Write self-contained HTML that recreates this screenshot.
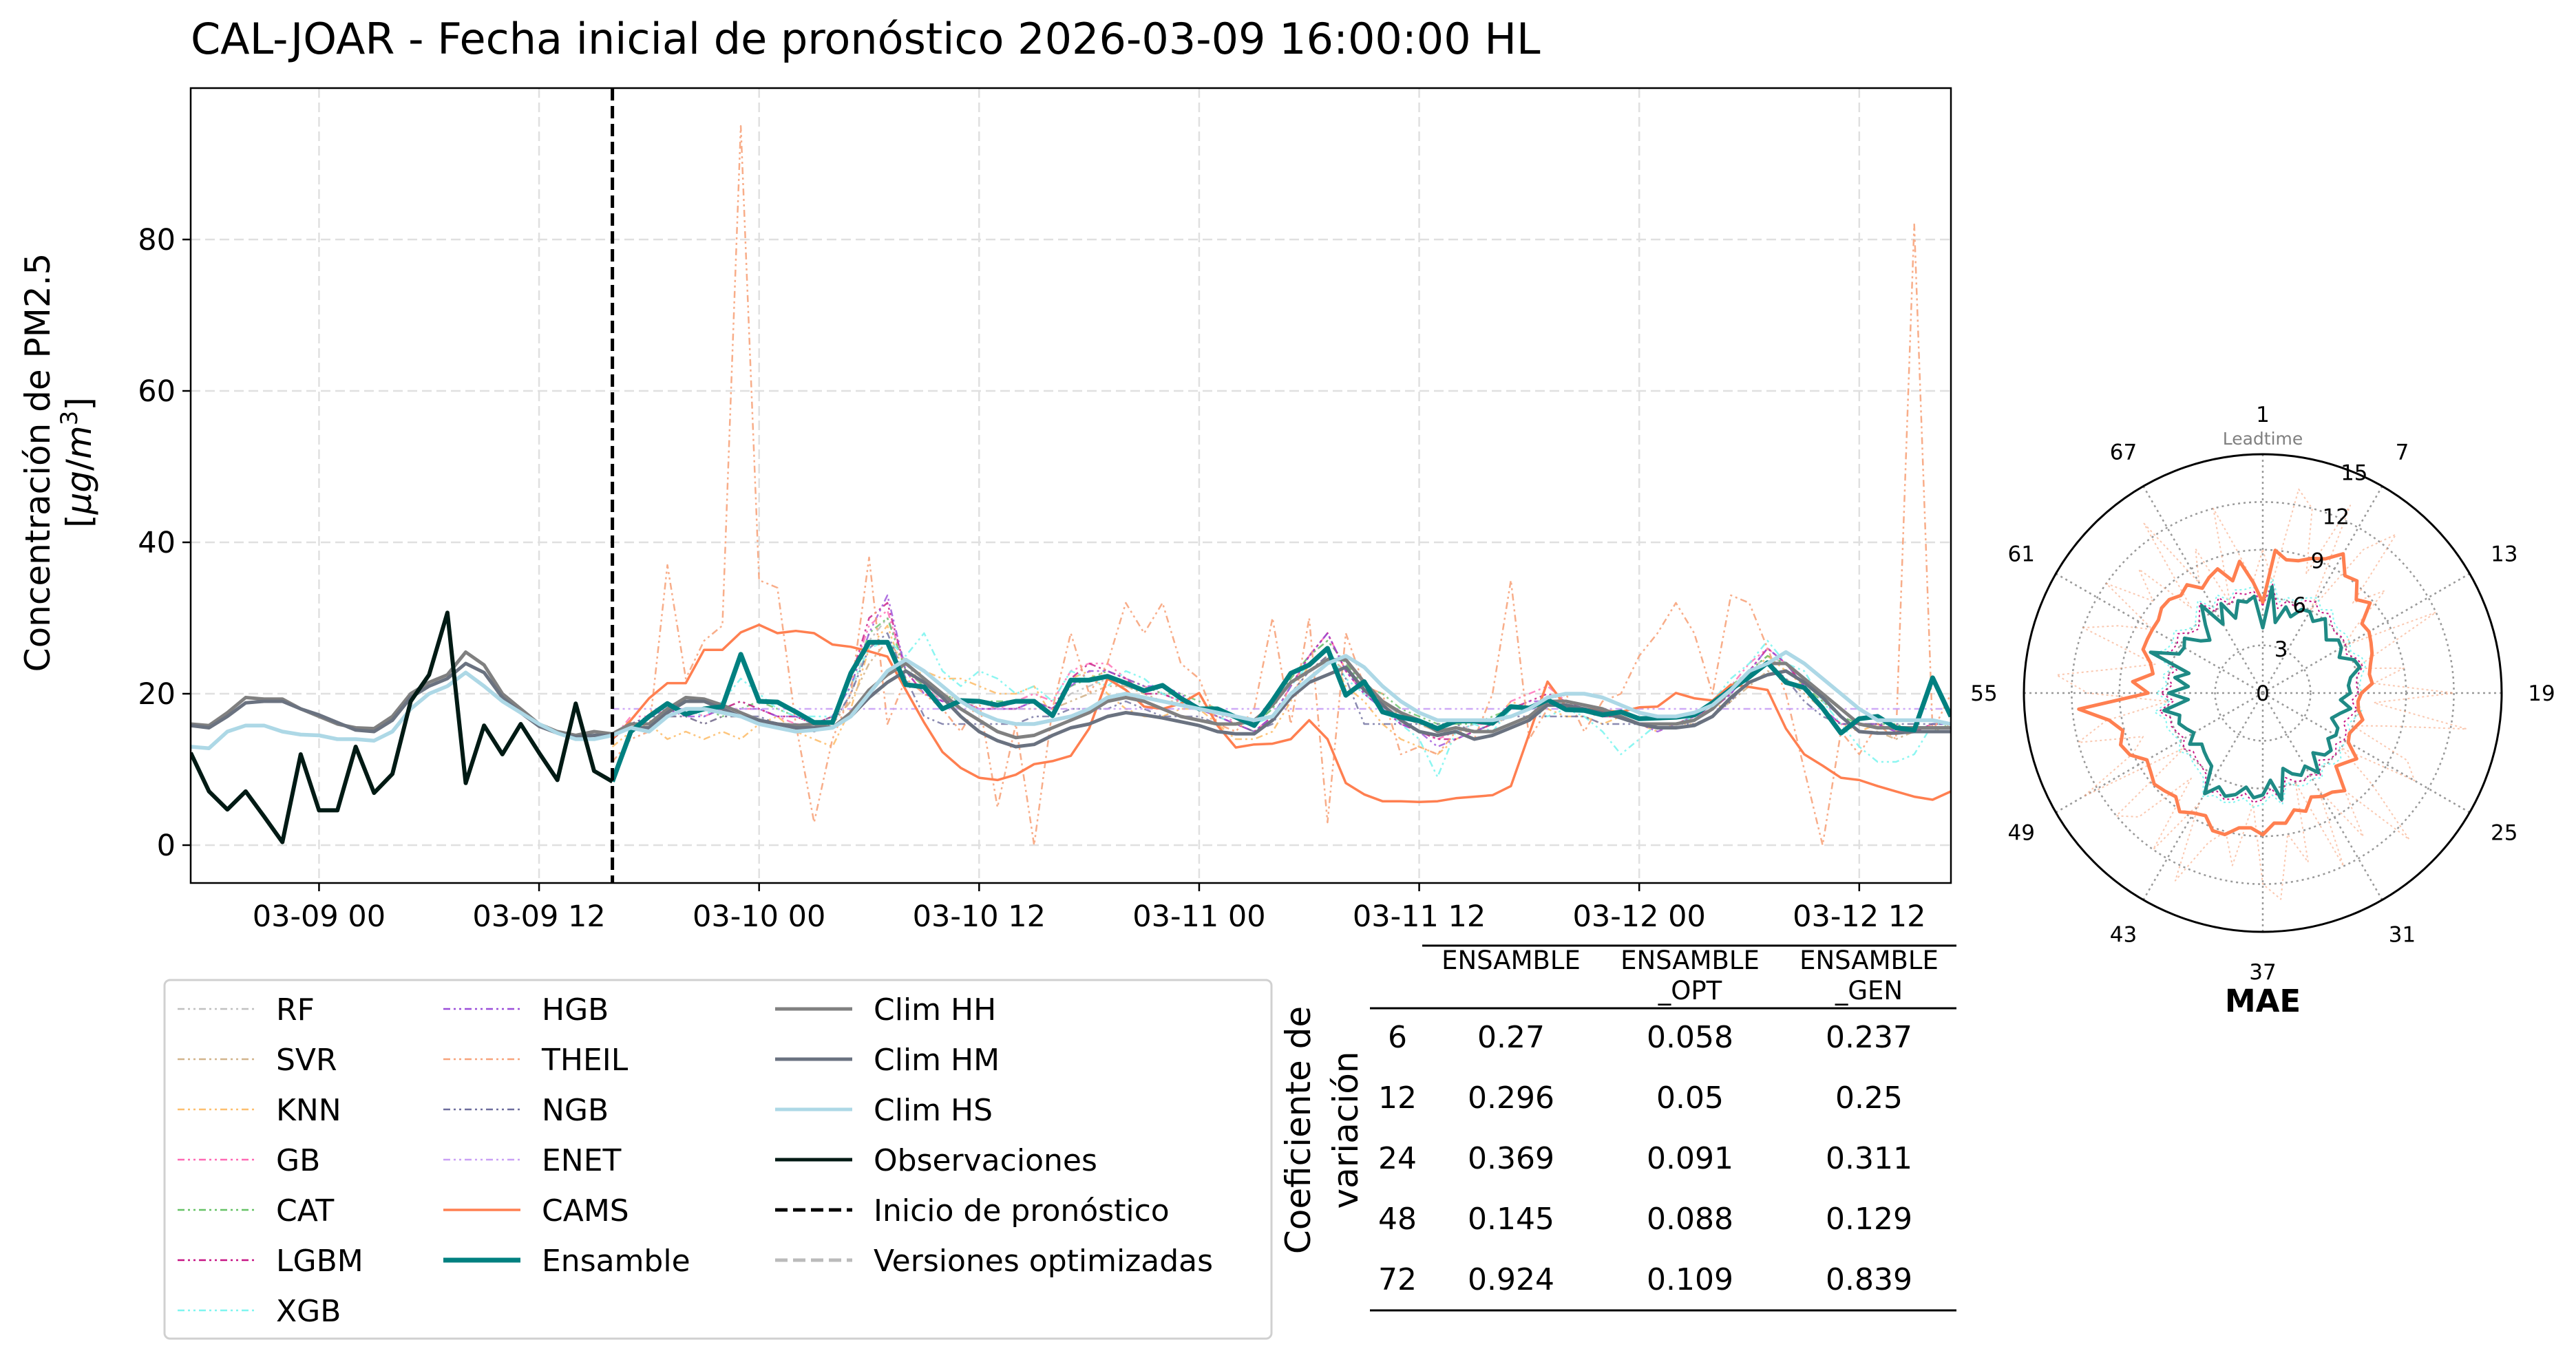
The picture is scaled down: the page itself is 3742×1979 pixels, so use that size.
<!DOCTYPE html>
<html><head><meta charset="utf-8"><style>
html,body{margin:0;padding:0;background:#fff;}
svg{display:block;font-family:"DejaVu Sans","Liberation Sans",sans-serif;}
</style></head><body>
<svg id="fig" xmlns="http://www.w3.org/2000/svg" width="3742" height="1979" viewBox="0 0 3742 1979">
<rect width="3742" height="1979" fill="#fff"/>
<text x="277" y="78" font-size="62">CAL-JOAR - Fecha inicial de pronóstico 2026-03-09 16:00:00 HL</text>
<g id="main"></g>
<g id="legend"></g>
<g id="table"></g>
<g id="polar"></g>
</svg>
<script>
// ---------- time series data (hours relative to 03-09 00) ----------
const xTickHours = [0,12,24,36,48,60,72,84];
const xTickLabels = ["03-09 00","03-09 12","03-10 00","03-10 12","03-11 00","03-11 12","03-12 00","03-12 12"];
const yTicks = [0,20,40,60,80];
const obsStart = -7;
const observations = [12.2,7.1,4.7,7.1,3.8,0.4,12,4.6,4.6,13,6.9,9.4,19,22.5,30.7,8.2,15.8,12,16,12.2,8.6,18.7,9.8,8.4];
const climStart = -7;
const climHH = [16,15.8,17.5,19.5,19.3,19.3,18,17,16,15.5,15.4,17,20,21.5,22.5,25.5,23.8,20,18,16,15,14.5,15,14.7,16,16,18,19.5,19.3,18.5,17.5,16.5,16,15.8,16,15.5,17.5,20.5,22.5,24,22,20,18,16.5,15,14.2,14.5,15.5,16.5,17.5,19,19.5,19,18,17,16.5,16,16,16.5,18.5,21.5,23,24.5,24.5,21.5,19,17.5,16.5,15,15.5,15,15,16,17,19,19,18.5,18,17,16,16,16,16.5,18,20.5,22.5,24,24,22,20,18,16,15.5,15.5,15.5,15.5,15.5];
const climHM = [15.8,15.5,17,18.8,19,19,18,17.2,16.2,15.2,15,16.5,19.5,21,22,24,22.8,19.5,17.5,15.7,14.8,14.3,14.5,14.5,15.5,15.5,17.5,19,19,18,17,16.5,16,15.5,15.5,15.5,17,19.5,21.5,23,21.5,19.5,17,15,13.8,13,13.3,14.5,15.5,16,17,17.5,17.2,16.8,16.3,15.8,15,14.7,14.7,16.5,19.5,21.5,22.5,23.5,20.5,18.5,16.5,15,14.5,15,14,14.5,15.5,16.5,18.5,18.5,18,17.5,16.8,16,15.5,15.5,15.8,17,19.5,21.5,22.5,23,21.5,19.5,17,15,14.8,14.8,15,15,15];
const climHS = [13,12.8,15,15.8,15.8,15,14.6,14.5,14,14,13.8,15,18,20,21,22.8,21,19,17.5,16,14.8,14,14,14.5,15.5,15,17,18,18,17.5,17,16,15.5,15,15.2,15.5,17,20,23,24.5,23,21,19,17.5,16.5,16,16,16.5,17,18,19.5,20,19.5,19,18.5,18,17.5,17,16.5,17,20,22,24,25,23.5,21,19,17.5,16.5,16.5,16.5,16.5,17,18,19.5,20,20,19.5,18.5,17.5,17,17,17.5,18.5,20.5,23,24,25.5,24,22,20,18,16.5,16.5,16.5,16.5,16];
const fcStart = 16;
const ensamble = [8.4,15,17,18.7,17.3,18,18.3,25.2,19,18.9,17.6,16.2,16.2,22.7,26.8,26.8,21.2,20.9,18,19.1,19,18.5,19,19,17.1,21.8,21.8,22.3,21.4,20.4,21.1,19.4,18,18,16.9,15.8,19.1,22.7,23.8,26,19.8,21.6,17.6,16.9,16.4,15.4,16.4,16.4,16.1,18.3,18.1,19.2,17.9,17.8,17.2,17.6,16.7,16.8,16.9,17.2,18.8,20.6,22.2,24.1,21.5,20.8,18.1,14.8,16.7,17,15.5,15.2,22.1,17];
const cams = [14,16.5,19.4,21.4,21.4,25.8,25.8,28.1,29.1,28,28.3,28,26.5,26.2,25.6,24.9,20.5,16.2,12.3,10.2,8.9,8.6,9.3,10.7,11.1,11.8,15.4,22,20.5,18.3,18,18.7,20.1,15.8,12.9,13.3,13.4,14,16.5,14,8.2,6.7,5.8,5.8,5.7,5.8,6.2,6.4,6.6,7.8,14.7,21.6,18.3,18,17.8,17.6,18.2,18.3,20.1,19.4,19.1,21.2,20.9,20.5,15.4,12,10.5,8.9,8.6,7.8,7.1,6.4,6,7.1];
const theil = [11,14,15,37,22,27,29,95,35,34,16,3,14,20,38,16,22,20,18,15,19,5,16,0,18,28,20,24,32,28,32,24,22,16,15,18,30,16,30,3,28,21,20,12,13,12,15,14,20,35,14,18,20,15,19,20,25,28,32,28,20,33,32,26,20,10,0,15,12,16,14,82,15,20];
const rf = [14,16,17,17,18,17,18,19,18,17,17,16,16,20,27,30,24,21,19,18,19,18,18,19,18,20,21,22,21,20,20,19,18,17,17,16,18,22,25,27,24,21,19,17,16,15,15,16,16,18,18,19,18,18,17,17,16,16,16,17,18,20,23,25,24,21,19,17,16,16,15,15,16,16];
const svr = [14,16,16,17,17,16,17,17,16,16,16,15,16,19,24,27,24,22,20,19,19,18,18,18,18,19,20,21,21,20,19,19,18,17,16,16,17,20,23,25,23,21,19,17,16,15,15,15,16,17,18,19,19,18,17,17,16,16,16,16,17,19,21,23,22,20,18,16,15,15,14,15,15,16];
const knn = [13,15,16,14,15,14,15,14,16,17,15,14,13,18,26,29,22,23,22,22,21,20,20,21,17,22,23,20,18,17,17,18,18,16,14,14,15,19,24,26,21,19,16,14,13,12,14,15,16,19,18,18,17,17,16,17,16,15,16,17,18,19,22,25,23,21,18,16,15,16,15,15,16,16];
const gb = [14,17,17,18,18,17,18,18,18,17,16,16,17,22,29,31,23,21,19,19,19,18,19,20,19,23,24,24,22,21,20,19,18,18,16,15,17,21,25,28,23,20,18,16,15,14,15,16,16,19,20,21,19,18,17,17,16,16,16,17,19,21,24,26,24,21,18,16,16,16,15,15,16,16];
const cat = [14,16,17,18,17,18,17,18,19,18,17,16,17,21,28,30,23,21,20,19,19,19,19,19,18,21,22,23,22,21,20,20,19,18,17,16,18,22,25,27,24,21,20,18,17,16,16,16,17,18,18,19,18,18,17,17,16,16,16,17,19,21,23,25,24,21,19,17,16,16,16,15,15,16];
const lgbm = [14,16,17,18,17,18,18,19,18,17,17,16,17,22,30,32,23,20,19,19,18,18,18,19,18,22,24,23,22,20,20,19,18,17,16,15,17,21,25,28,23,20,18,16,15,14,14,15,16,18,19,20,19,18,17,17,16,16,16,17,18,20,23,26,24,21,18,16,16,16,15,15,16,16];
const xgb = [14,16,17,18,18,17,19,22,20,18,17,17,17,21,26,27,25,28,23,21,23,22,20,21,19,23,22,21,23,22,20,19,18,17,16,16,17,21,24,26,22,20,18,16,14,9,15,16,15,18,18,17,18,17,15,12,14,16,16,17,19,22,24,27,24,23,19,16,13,11,11,12,16,16];
const hgb = [14,16,17,18,17,17,18,18,18,17,17,16,17,21,28,33,23,20,19,19,18,18,18,19,18,21,23,23,22,21,21,20,18,17,16,15,17,21,25,28,23,20,18,16,15,13,14,15,16,18,19,19,19,18,17,17,16,15,16,17,18,20,23,26,24,21,18,16,16,16,15,15,16,16];
const ngb = [14,16,17,17,17,16,17,17,17,16,16,15,16,20,26,28,22,17,16,16,16,16,16,17,17,18,18,18,19,18,17,17,17,16,16,15,16,20,23,25,22,16,16,16,16,16,16,15,16,17,17,17,17,17,16,16,16,16,16,16,17,19,22,24,22,19,17,16,16,16,16,16,16,16];
const enet = [18,18,18,18,18,18,18,18,18,18,18,18,18,18,18,18,18,18,18,18,18,18,18,18,18,18,18,18,18,18,18,18,18,18,18,18,18,18,18,18,18,18,18,18,18,18,18,18,18,18,18,18,18,18,18,18,18,18,18,18,18,18,18,18,18,18,18,18,18,18,18,18,18,18];

// ---------- table data ----------
const cvHorizons = ["6","12","24","48","72"];
const cvEnsamble = ["0.27","0.296","0.369","0.145","0.924"];
const cvOpt = ["0.058","0.05","0.091","0.088","0.109"];
const cvGen = ["0.237","0.25","0.311","0.129","0.839"];

// ---------- polar data (MAE per leadtime 1..72) ----------
const polarAngleLabels = ["1","7","13","19","25","31","37","43","49","55","61","67"];
const polarRadialTicks = [0,3,6,9,12,15];
const maeEnsamble = [4.1,6.7,4.5,5.6,5.1,5.8,5.9,5.5,6.1,5.6,5.2,5.8,5.7,5.3,6.1,6.3,5.6,5.4,5.5,4.9,5.6,5.0,4.6,5.2,5.3,5.0,5.6,5.5,4.9,6.1,5.3,5.7,5.4,4.9,6.8,5.5,6.4,6.6,6.0,6.6,6.9,6.5,7.3,5.6,5.4,5.2,5.0,5.6,5.0,5.3,5.6,5.4,6.3,4.7,5.9,4.7,5.6,4.8,7.5,5.8,5.7,6.0,5.1,4.7,5.6,6.7,5.0,6.2,5.0,6.0,5.8,6.1];
const maeCams = [5.7,9.0,8.5,8.6,9.0,9.3,10.1,9.0,9.2,8.3,8.8,7.6,7.7,7.5,7.3,7.0,6.8,6.9,6.2,6.0,6.1,6.5,6.2,6.0,6.2,7.2,6.8,6.5,8.0,7.6,7.5,7.2,7.9,7.6,8.3,8.2,8.9,8.5,8.6,9.2,9.2,8.5,8.7,9.1,8.5,8.7,8.9,8.6,8.4,9.2,9.5,9.1,9.8,11.6,7.2,8.2,7.0,7.3,8.0,8.0,8.0,8.0,8.3,8.3,8.0,8.3,7.6,8.0,8.3,7.3,8.4,7.0];
const maeTheil = [9,7,13,12,8,13,6,11,13,8,10,7,6,12,8,6,9,7,12,7,13,8,6,10,11,6,9,13,8,11,7,12,6,11,9,13,12,7,11,9,10,13,8,12,7,11,12,6,13,9,8,12,10,6,11,13,9,7,12,10,8,12,9,11,7,13,8,10,6,12,9,7];
const maeGb = [5.5,6.9,5.4,6.0,5.8,6.4,6.6,6.2,6.5,6.1,5.9,6.1,6.0,5.8,6.3,6.5,6.0,5.9,6.0,5.6,6.0,5.7,5.4,5.8,5.9,5.6,6.0,5.9,5.5,6.3,5.9,6.1,5.9,5.5,6.9,6.0,6.7,6.9,6.4,6.9,7.1,6.8,7.3,6.2,6.0,5.9,5.7,6.1,5.7,5.9,6.1,6.0,6.6,5.6,6.4,5.7,6.1,5.6,7.0,6.3,6.2,6.5,5.9,5.7,6.2,6.9,5.9,6.6,5.9,6.5,6.3,6.4];
const maeXgb = [5.8,7.2,5.8,6.2,6.1,6.6,6.9,6.4,6.8,6.3,6.2,6.4,6.3,6.1,6.6,6.7,6.3,6.1,6.2,5.9,6.3,6.0,5.7,6.1,6.2,5.9,6.4,6.3,5.8,6.5,6.2,6.4,6.2,5.8,7.1,6.4,7.0,7.2,6.7,7.1,7.3,7.1,7.5,6.5,6.3,6.2,6.0,6.4,6.0,6.2,6.4,6.3,6.9,5.9,6.7,6.0,6.4,5.9,7.2,6.6,6.5,6.8,6.2,6.0,6.5,7.1,6.2,6.8,6.2,6.7,6.6,6.7];

const NS = "http://www.w3.org/2000/svg";
function mk(tag, attrs, parent, text){
  const e = document.createElementNS(NS, tag);
  for (const k in attrs) e.setAttribute(k, attrs[k]);
  if (text !== undefined) e.textContent = text;
  parent.appendChild(e);
  return e;
}

// ---------- main axes ----------
const AX = {l:277, r:2834, t:128, b:1283};
const xMin = -7, xMax = 89, yMin = -5, yMax = 100;
const X = h => AX.l + (h - xMin) / (xMax - xMin) * (AX.r - AX.l);
const Y = v => AX.b - (v - yMin) / (yMax - yMin) * (AX.b - AX.t);
const main = document.getElementById('main');

xTickHours.forEach((h, i) => {
  const g = mk('line', {x1:X(h), x2:X(h), y1:AX.t, y2:AX.b, stroke:'#e0e0e0', 'stroke-width':2.5, 'stroke-dasharray':'14 7'}, main);
  
  
  const tk = mk('line', {x1:X(h), x2:X(h), y1:AX.b, y2:AX.b+12, stroke:'#000', 'stroke-width':2.5}, main);
  
  
  const t = mk('text', {x:X(h), y:AX.b+63, 'font-size':43, 'text-anchor':'middle'}, main, xTickLabels[i]);
  
  
});
yTicks.forEach(v => {
  const g = mk('line', {x1:AX.l, x2:AX.r, y1:Y(v), y2:Y(v), stroke:'#e0e0e0', 'stroke-width':2.5, 'stroke-dasharray':'14 7'}, main);
  
  
  const tk = mk('line', {x1:AX.l-12, x2:AX.l, y1:Y(v), y2:Y(v), stroke:'#000', 'stroke-width':2.5}, main);
  
  
  const t = mk('text', {x:AX.l-22, y:Y(v)+15, 'font-size':43, 'text-anchor':'end'}, main, String(v));
  
  
});

const defs = mk('defs', {}, main);
const cp = mk('clipPath', {id:'axclip'}, defs);
mk('rect', {x:AX.l, y:AX.t, width:AX.r-AX.l, height:AX.b-AX.t}, cp);
const series = mk('g', {'clip-path':'url(#axclip)'}, main);



function drawSeries(arr, start, color, width, dash, name, opacity){
  const pts = arr.map((v, i) => X(start + i).toFixed(1) + ',' + Y(v).toFixed(1)).join(' ');
  const p = mk('polyline', {points:pts, fill:'none', stroke:color, 'stroke-width':width, 'stroke-linejoin':'round', opacity:opacity||1}, series);
  if (dash) p.setAttribute('stroke-dasharray', dash);
  
  
}
const DD = '10 5 3 5 3 5';
drawSeries(rf, fcStart, '#c0c0c0', 2.5, DD, 'rf-line', 0.9);
drawSeries(svr, fcStart, '#d2b48c', 2.5, DD, 'svr-line', 0.9);
drawSeries(knn, fcStart, '#fdbf6f', 2.5, DD, 'knn-line', 0.9);
drawSeries(gb, fcStart, '#ff69b4', 2.5, DD, 'gb-line', 0.8);
drawSeries(cat, fcStart, '#66c266', 2.5, DD, 'cat-line', 0.8);
drawSeries(lgbm, fcStart, '#c71585', 2.5, DD, 'lgbm-line', 0.8);
drawSeries(xgb, fcStart, '#7ff5f0', 2.5, DD, 'xgb-line', 0.9);
drawSeries(hgb, fcStart, '#9b4fd9', 2.5, DD, 'hgb-line', 0.8);
drawSeries(theil, fcStart, '#f7a47c', 2.5, DD, 'theil-line', 0.9);
drawSeries(ngb, fcStart, '#6e6e9e', 2.5, DD, 'ngb-line', 0.8);
drawSeries(enet, fcStart, '#c9a0f5', 2.5, DD, 'enet-line', 0.9);
drawSeries(cams, fcStart, '#ff7f50', 3.5, null, 'cams-line');
drawSeries(climHH, climStart, '#808080', 5, null, 'clim-hh-line');
drawSeries(climHM, climStart, '#6a7280', 5, null, 'clim-hm-line');
drawSeries(ensamble, fcStart, '#008080', 7, null, 'ensamble-line');
drawSeries(climHS, climStart, '#add8e6', 5.5, null, 'clim-hs-line');
drawSeries(observations, obsStart, '#001a14', 6, null, 'observations-line');

const fl = mk('line', {x1:X(fcStart), x2:X(fcStart), y1:AX.t, y2:AX.b, stroke:'#000', 'stroke-width':5, 'stroke-dasharray':'18 8'}, main);


const fr = mk('rect', {x:AX.l, y:AX.t, width:AX.r-AX.l, height:AX.b-AX.t, fill:'none', stroke:'#000', 'stroke-width':2.5}, main);


const yl1 = mk('text', {x:0, y:0, 'font-size':50, 'text-anchor':'middle', transform:'translate(72,672) rotate(-90)'}, main, 'Concentración de PM2.5');


const yl2 = mk('text', {x:0, y:0, 'font-size':50, 'text-anchor':'middle', transform:'translate(132,672) rotate(-90)'}, main);


yl2.innerHTML = '[<tspan font-style="italic">μg</tspan>/<tspan font-style="italic">m</tspan><tspan baseline-shift="super" font-size="34">3</tspan>]';

// ---------- legend ----------
const legendLabels = ["RF","SVR","KNN","GB","CAT","LGBM","XGB","HGB","THEIL","NGB","ENET","CAMS","Ensamble","Clim HH","Clim HM","Clim HS","Observaciones","Inicio de pronóstico","Versiones optimizadas"];
const legendColors = ['#c0c0c0','#d2b48c','#fdbf6f','#ff69b4','#66c266','#c71585','#7ff5f0','#9b4fd9','#f7a47c','#6e6e9e','#c9a0f5','#ff7f50','#008080','#808080','#6a7280','#add8e6','#001a14','#000','#bbbbbb'];
const leg = document.getElementById('legend');
const lb = mk('rect', {x:239, y:1424, width:1608, height:521, rx:8, fill:'#fff', stroke:'#d0d0d0', 'stroke-width':3}, leg);


const colX = [258, 644, 1126];
legendLabels.forEach((lab, i) => {
  const col = i < 7 ? 0 : (i < 13 ? 1 : 2);
  const row = col === 0 ? i : (col === 1 ? i - 7 : i - 13);
  const y = 1466 + row * 73;
  const x = colX[col];
  const g = mk('g', {}, leg);
  
  
  let dash = null, w = 3;
  if (i <= 10) { dash = '10 5 3 5 3 5'; w = 2.5; }
  if (i === 11) w = 3.5;
  if (i === 12) w = 7;
  if (i >= 13 && i <= 15) w = 5;
  if (i === 16) w = 5;
  if (i === 17) { dash = '18 8'; w = 5; }
  if (i === 18) { dash = '18 8'; w = 5; }
  const ln = mk('line', {x1:x, x2:x+112, y1:y, y2:y, stroke:legendColors[i], 'stroke-width':w}, g);
  if (dash) ln.setAttribute('stroke-dasharray', dash);
  mk('text', {x:x+143, y:y+16, 'font-size':44}, g, lab);
});

// ---------- table ----------
const tb = document.getElementById('table');
const tl = (x1,x2,y) => { const l = mk('line', {x1:x1, x2:x2, y1:y, y2:y, stroke:'#000', 'stroke-width':3}, tb);   };
tl(2066, 2842, 1374); tl(1990, 2842, 1465); tl(1990, 2842, 1904);
const colC = [2195, 2455, 2715];
const hdr1 = ["ENSAMBLE","ENSAMBLE","ENSAMBLE"], hdr2 = ["","_OPT","_GEN"];
colC.forEach((cx, i) => {
  const h = mk('text', {x:cx, y:1408, 'font-size':37, 'text-anchor':'middle'}, tb, hdr1[i]);
  
  
  if (hdr2[i]) { const h2 = mk('text', {x:cx, y:1452, 'font-size':37, 'text-anchor':'middle'}, tb, hdr2[i]);   }
});
cvHorizons.forEach((hz, r) => {
  const y = 1522 + r * 88;
  const vals = [cvEnsamble[r], cvOpt[r], cvGen[r]];
  const a = mk('text', {x:2030, y:y, 'font-size':44, 'text-anchor':'middle'}, tb, hz);
  
  
  vals.forEach((v, c) => {
    const t = mk('text', {x:colC[c], y:y, 'font-size':44, 'text-anchor':'middle'}, tb, v);
    
    
  });
});
const cvl = mk('text', {x:0, y:0, 'font-size':50, 'text-anchor':'middle', transform:'translate(1903,1642) rotate(-90)'}, tb, 'Coeficiente de');


const cvl2 = mk('text', {x:0, y:0, 'font-size':50, 'text-anchor':'middle', transform:'translate(1972,1642) rotate(-90)'}, tb, 'variación');



// ---------- polar ----------
const P = {cx:3287, cy:1007, R:347, rmax:15};
const pol = document.getElementById('polar');
const pr = v => v / P.rmax * P.R;
const pa = k => (k - 1) * 5 * Math.PI / 180;
const px = (k, v) => P.cx + pr(v) * Math.sin(pa(k));
const py = (k, v) => P.cy - pr(v) * Math.cos(pa(k));
[3,6,9,12].forEach(v => {
  const c = mk('circle', {cx:P.cx, cy:P.cy, r:pr(v), fill:'none', stroke:'#999', 'stroke-width':2.5, 'stroke-dasharray':'3 5'}, pol);
  
  
});
polarAngleLabels.forEach((lab, i) => {
  const k = Number(lab);
  const s = mk('line', {x1:P.cx, y1:P.cy, x2:px(k, P.rmax), y2:py(k, P.rmax), stroke:'#999', 'stroke-width':2.5, 'stroke-dasharray':'3 5'}, pol);
  
  
  const lx = P.cx + 405 * Math.sin(pa(k)), ly = P.cy - 405 * Math.cos(pa(k));
  const t = mk('text', {x:lx, y:ly+11, 'font-size':31, 'text-anchor':'middle'}, pol, lab);
  
  
});
function drawPolar(arr, color, width, dash, name, opacity){
  const pts = arr.map((v, i) => px(i+1, v).toFixed(1) + ',' + py(i+1, v).toFixed(1)).join(' ');
  const p = mk('polygon', {points:pts, fill:'none', stroke:color, 'stroke-width':width, 'stroke-linejoin':'round', opacity:opacity||1}, pol);
  if (dash) p.setAttribute('stroke-dasharray', dash);
  
  
}
drawPolar(maeTheil, '#f7a47c', 2, '3 4', 'polar-theil', 0.6);
drawPolar(maeXgb, '#7ff5f0', 2, '3 4', 'polar-xgb');
drawPolar(maeGb, '#c71585', 2, '3 4', 'polar-gb');
drawPolar(maeCams, '#ff7f50', 5, null, 'polar-cams');
drawPolar(maeEnsamble, '#1f8a85', 5, null, 'polar-ensamble');
polarRadialTicks.forEach(v => {
  const a = 22.5 * Math.PI / 180;
  const t = mk('text', {x:P.cx + pr(v)*Math.sin(a), y:P.cy - pr(v)*Math.cos(a) + 11, 'font-size':31, 'text-anchor':'middle'}, pol, String(v));
  
  
});
const oc = mk('circle', {cx:P.cx, cy:P.cy, r:P.R, fill:'none', stroke:'#000', 'stroke-width':3}, pol);


const lt = mk('text', {x:P.cx, y:646, 'font-size':25, fill:'#808080', 'text-anchor':'middle'}, pol, 'Leadtime');


const mt = mk('text', {x:P.cx, y:1470, 'font-size':45, 'font-weight':'bold', 'text-anchor':'middle'}, pol, 'MAE');


</script>
</body></html>
